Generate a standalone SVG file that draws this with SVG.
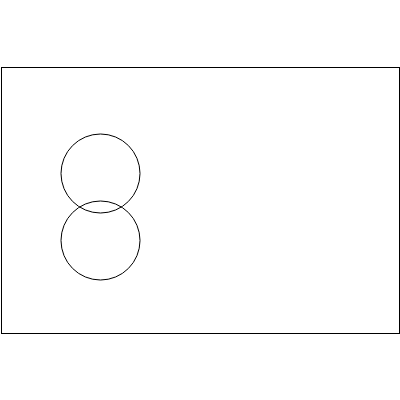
<svg xmlns="http://www.w3.org/2000/svg" width="400" height="400" viewBox="0 0 400 400">
<style>
.s{fill:none;stroke:#000;stroke-width:1}
</style>
<rect width="400" height="400" fill="#fff"/>
<rect class="s" x="1.5" y="67.5" width="398" height="266"/>
<circle class="s" cx="100.5" cy="173.5" r="39.5"/>
<circle class="s" cx="100.5" cy="240.5" r="39.5"/>
</svg>
